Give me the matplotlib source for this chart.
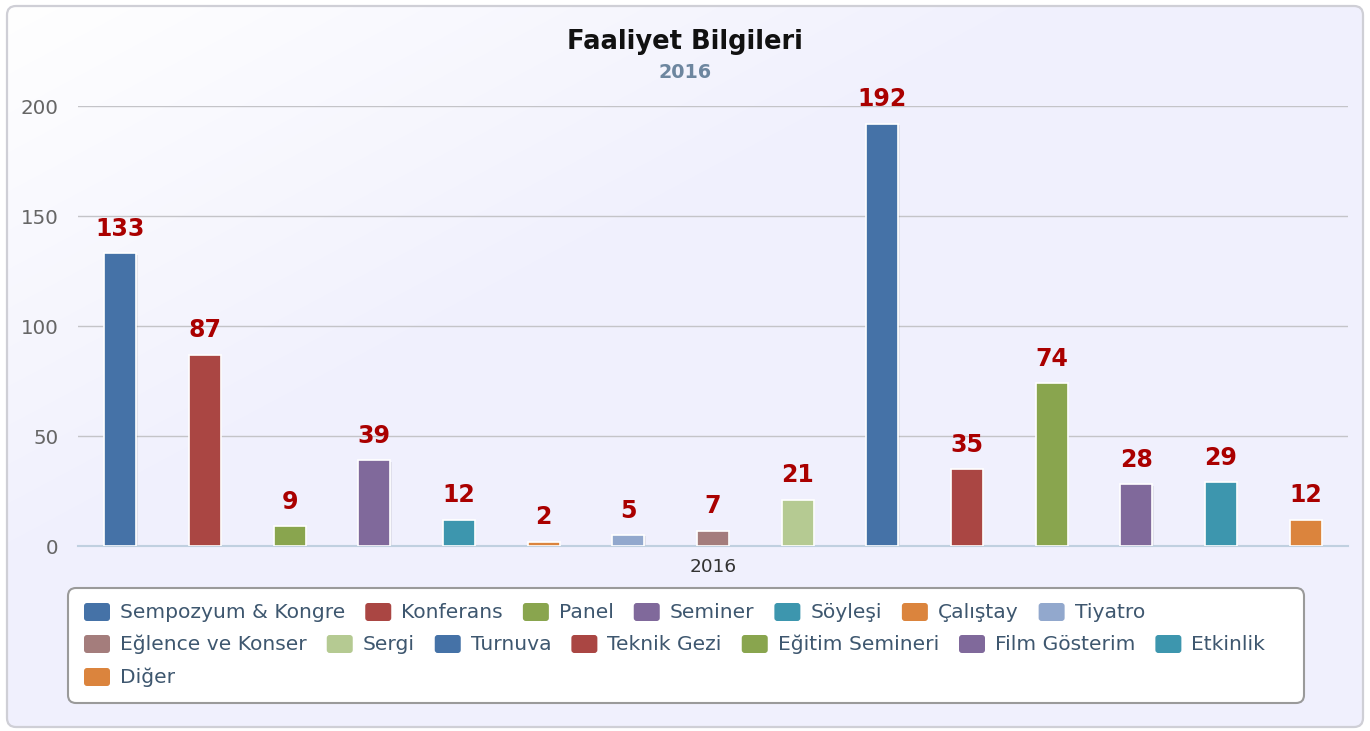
import matplotlib

matplotlib.use("Agg")
import matplotlib.pyplot as plt
import numpy as np
from matplotlib.patches import FancyBboxPatch

W, H = 1370, 731

categories = ["Sempozyum & Kongre", "Konferans", "Panel", "Seminer", "Söyleşi",
              "Çalıştay", "Tiyatro", "Eğlence ve Konser", "Sergi", "Turnuva",
              "Teknik Gezi", "Eğitim Semineri", "Film Gösterim", "Etkinlik",
              "Diğer"]
values = [133, 87, 9, 39, 12, 2, 5, 7, 21, 192, 35, 74, 28, 29, 12]
palette = ["#4572A7", "#AA4643", "#89A54E", "#80699B", "#3D96AE",
           "#DB843D", "#92A8CD", "#A47D7C", "#B5CA92"]
colors = [palette[i % len(palette)] for i in range(len(categories))]
year = "2016"
yticks = [0, 50, 100, 150, 200]
legend_rows = [7, 7, 1]

plt.rcParams["font.family"] = "DejaVu Sans"

fig = plt.figure(figsize=(W / 100, H / 100), dpi=100)
fig.patch.set_facecolor("white")

# full-figure overlay in pixel coordinates (background, title, legend)
bg = fig.add_axes([0, 0, 1, 1])
bg.set_xlim(0, W)
bg.set_ylim(H, 0)
bg.axis("off")

border = FancyBboxPatch((7, 6), 1356, 721,
                        boxstyle="round,pad=0,rounding_size=9",
                        fc="none", ec="#cfcfd6", lw=1.6, zorder=2)
bg.add_patch(border)
yy, xx = np.mgrid[0:H, 0:W]
t = np.clip((xx / W + yy / H) / 0.8, 0, 1)[..., None]
start = np.array([1.0, 1.0, 1.0])
end = np.array([240, 240, 253]) / 255
img = start * (1 - t) + end * t
im = bg.imshow(img, extent=(0, W, H, 0), zorder=1, aspect="auto")
im.set_clip_path(border)

bg.text(W / 2, 42, "Faaliyet Bilgileri", ha="center", va="center",
        fontsize=18.5, fontweight="bold", color="#111111", zorder=5)
bg.text(W / 2, 72, year, ha="center", va="center",
        fontsize=13.8, fontweight="bold", color="#6D869F", zorder=5)

# plot area
ax = fig.add_axes([78 / W, (H - 546) / H, 1270 / W, 440 / H])
ax.set_facecolor("none")
x = np.arange(len(values))
ax.bar(x + 0.015, values, width=0.38, bottom=-0.6, color="#000000",
       alpha=0.07, zorder=2)
ax.bar(x, values, width=0.38, color=colors, edgecolor="white", lw=1.2,
       zorder=3)
for xi, v in zip(x, values):
    ax.annotate(str(v), (xi, v), xytext=(0, 12.5), textcoords="offset points",
                ha="center", va="baseline", fontsize=17, fontweight="bold",
                color="#AA0000", zorder=6)

ax.set_xlim(-0.5, len(values) - 0.5)
ax.set_ylim(0, 200)
ax.set_yticks(yticks)
ax.grid(axis="y", color="#C4C4C8", lw=1.0, zorder=0)
ax.set_axisbelow(True)
for s in ["top", "right", "left"]:
    ax.spines[s].set_visible(False)
ax.spines["bottom"].set_color("#C0D0E0")
ax.spines["bottom"].set_linewidth(1.5)
ax.tick_params(axis="y", length=0, pad=14, labelsize=14.3, labelcolor="#666666")
ax.set_xticks([(len(values) - 1) / 2])
ax.set_xticklabels([year])
ax.tick_params(axis="x", length=0, pad=9, labelsize=13.3, labelcolor="#333333")

# legend box with flowing items
bg.add_patch(FancyBboxPatch((68, 588), 1236, 115,
                            boxstyle="round,pad=0,rounding_size=8",
                            fc="white", ec="#9a9a9a", lw=1.5, zorder=4))
renderer = fig.canvas.get_renderer()
row_y = [612, 644, 677]
idx = 0
for r, n in enumerate(legend_rows):
    cx = 84
    for _ in range(n):
        bg.add_patch(FancyBboxPatch((cx, row_y[r] - 9), 26, 18,
                                    boxstyle="round,pad=0,rounding_size=3",
                                    fc=colors[idx], ec="none", zorder=5))
        txt = bg.text(cx + 36, row_y[r], categories[idx], ha="left",
                      va="center", fontsize=14.6, color="#3E576F", zorder=5)
        w = txt.get_window_extent(renderer).width
        cx = cx + 36 + w + 20
        idx += 1

fig.savefig("out.png", dpi=100)
